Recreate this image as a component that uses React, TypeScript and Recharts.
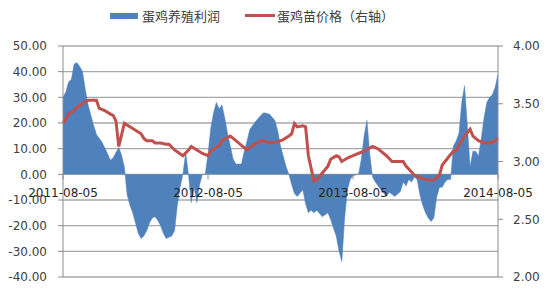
import { ComposedChart, Area, Line, XAxis, YAxis, CartesianGrid, Legend, ReferenceDot } from 'recharts'

document.body.style.margin = '0'

// 周序号（从 2011-08-05 起）与蛋鸡养殖利润（元/羽）
const profitWeeks = [
  0, 1, 2, 3, 4, 5, 6, 7, 8, 9, 10, 11, 12, 14, 16, 17, 18, 19, 20, 21, 22, 23, 24, 25, 26, 27, 28, 29, 30, 31,
  32, 33, 34, 35, 36, 37, 38, 39, 40, 41, 42, 43, 44, 45, 46, 47, 48, 49, 50, 51, 52, 53, 54, 55, 56, 57, 58, 59,
  60, 61, 62, 64, 65, 66, 67, 69, 71, 72, 74, 76, 77, 78, 79, 80, 81, 82, 83, 84, 86, 87, 88, 89, 90, 91, 93, 95,
  96, 97, 98, 99, 100, 101, 102, 103, 104, 106, 107, 108, 109, 110, 111, 112, 114, 116, 117, 119, 121, 122, 123,
  124, 125, 126, 127, 128, 129, 130, 131, 132, 133, 134, 135, 136, 137, 138, 139, 140, 141, 142, 143, 144, 145,
  146, 147, 148, 149, 150, 151, 152, 153, 154, 155, 156,
]
const profitValues = [
  30, 32, 36, 37, 43, 43.5, 42, 40, 33, 27, 23, 19, 15.5, 12.5, 8, 5.5, 6.5, 8.5, 10.5, 7.5, 3, -8, -12, -15, -19,
  -23, -25, -24, -22, -19, -17, -16.5, -18, -20, -23, -25, -24.5, -24, -22, -12, -5, 0, 8.5, 0, -11, -5, -11, -4,
  0, 0, 8, 18, 24, 28, 25.5, 27, 22, 16, 11, 6, 4, 4, 9, 13, 17.5, 20.5, 23, 24, 23.5, 21, 17, 11, 7, 3, 0, -4,
  -7.5, -8.6, -6, -11.5, -15, -14, -15, -14, -16.5, -15, -17.6, -21, -24, -30, -34, -17, -6, -2, -0.5, 0, 6, 15,
  21, 8, -1, -3, -6, -8.6, -7, -8.6, -6.7, -3, -4.5, -2, -3, -1, -2, -8, -12, -15, -17, -18.4, -17, -9, -5, -5,
  -3, -2, -2, 11, 13, 16, 28, 34.5, 19, 3, 9, 9, 7, 14, 22, 28, 30, 31, 34, 39,
]

// 蛋鸡苗价格（元/羽，右轴）
const priceWeeks = [
  0, 2, 4, 5, 7, 9, 12, 13, 15, 17, 18, 19, 20, 22, 24, 26, 28, 29, 30, 32, 33, 35, 37, 38, 40, 43, 45, 46, 48, 50,
  52, 53, 56, 57, 60, 62, 64, 66, 68, 71, 72, 74, 77, 79, 81, 82, 83, 84, 86, 87, 88, 90, 91, 93, 95, 96, 98, 99,
  100, 102, 104, 107, 108, 111, 113, 114, 116, 118, 122, 123, 125, 126, 129, 131, 133, 135, 136, 138, 140, 141,
  142, 144, 146, 147, 149, 151, 153, 155, 156,
]
const priceValues = [
  3.33, 3.41, 3.44, 3.47, 3.5, 3.53, 3.53, 3.46, 3.44, 3.41, 3.4, 3.35, 3.13, 3.33, 3.3, 3.27, 3.24, 3.2, 3.18,
  3.18, 3.16, 3.16, 3.15, 3.15, 3.1, 3.05, 3.1, 3.13, 3.1, 3.07, 3.05, 3.09, 3.14, 3.18, 3.22, 3.18, 3.14, 3.1,
  3.14, 3.18, 3.18, 3.16, 3.17, 3.19, 3.22, 3.24, 3.33, 3.3, 3.31, 3.3, 3.05, 2.83, 2.84, 2.9, 2.96, 3.02, 3.05,
  3.04, 3.0, 3.03, 3.05, 3.08, 3.09, 3.13, 3.11, 3.09, 3.05, 3.0, 3.0, 2.96, 2.91, 2.88, 2.85, 2.84, 2.84, 2.88,
  2.97, 3.03, 3.09, 3.09, 3.14, 3.22, 3.28, 3.22, 3.18, 3.16, 3.16, 3.18, 3.2,
]

const dateTicks = [0, 52, 104, 156]
const dateLabels = ['2011-08-05', '2012-08-05', '2013-08-05', '2014-08-05']
const leftTicks = [-40, -30, -20, -10, 0, 10, 20, 30, 40, 50]
const rightTicks = [2, 2.5, 3, 3.5, 4]

const BLUE = '#4f81bd'
const RED = '#c0504d'
const TEXT = '#404040'
const FONT = '"DejaVu Sans", Verdana, sans-serif'
const CJK = '"Noto Sans CJK SC", sans-serif'

// 合并两条序列，缺失处留空，由 connectNulls 连接
const byWeek = new Map<number, { week: number; profit?: number; price?: number }>()
profitWeeks.forEach((w, i) => byWeek.set(w, { ...(byWeek.get(w) || { week: w }), profit: profitValues[i] }))
priceWeeks.forEach((w, i) => byWeek.set(w, { ...(byWeek.get(w) || { week: w }), price: priceValues[i] }))
const data = [...byWeek.values()].sort((a, b) => a.week - b.week)

const renderLegend = () => (
  <div style={{ display: 'flex', alignItems: 'center', paddingLeft: 110, fontFamily: CJK, fontSize: 13, color: TEXT }}>
    <span style={{ display: 'inline-block', width: 28, height: 6, background: BLUE, marginRight: 4 }} />
    <span>蛋鸡养殖利润</span>
    <span style={{ display: 'inline-block', width: 30, height: 3, background: RED, marginLeft: 25, marginRight: 2 }} />
    <span>蛋鸡苗价格（右轴）</span>
  </div>
)

export default function App() {
  return (
    <ComposedChart width={550} height={300} data={data} margin={{ top: 27, right: 0, bottom: 23, left: 0 }}>
      <CartesianGrid yAxisId="left" vertical={false} stroke="#a8a8a8" strokeWidth={1.3} />
      <XAxis dataKey="week" type="number" domain={[0, 156]} ticks={dateTicks} hide />
      <YAxis
        yAxisId="left"
        domain={[-40, 50]}
        ticks={leftTicks}
        width={63}
        tickSize={5}
        tickMargin={11}
        stroke="#8c8c8c"
        tick={{ fill: TEXT, fontSize: 12, fontFamily: FONT }}
        tickFormatter={(v: number) => v.toFixed(2)}
      />
      <YAxis
        yAxisId="right"
        orientation="right"
        domain={[2, 4]}
        ticks={rightTicks}
        width={52}
        tickSize={5}
        tickMargin={10}
        stroke="#8c8c8c"
        tick={{ fill: TEXT, fontSize: 12, fontFamily: FONT }}
        tickFormatter={(v: number) => v.toFixed(2)}
      />
      <Legend verticalAlign="top" content={renderLegend} wrapperStyle={{ top: 6, left: 0, width: 550 }} />
      <Area
        yAxisId="left"
        dataKey="profit"
        type="linear"
        baseValue={0}
        fill={BLUE}
        fillOpacity={1}
        stroke={BLUE}
        strokeWidth={0.5}
        connectNulls
        isAnimationActive={false}
      />
      <Line
        yAxisId="right"
        dataKey="price"
        type="linear"
        stroke={RED}
        strokeWidth={3}
        dot={false}
        connectNulls
        isAnimationActive={false}
      />
      {dateTicks.map((w, i) => (
        <ReferenceDot
          key={w}
          yAxisId="left"
          x={w}
          y={0}
          r={0}
          ifOverflow="visible"
          shape={(p: { cx: number; cy: number }) => (
            <line x1={p.cx} x2={p.cx} y1={p.cy} y2={p.cy + 5} stroke="#8c8c8c" />
          )}
          label={{ value: dateLabels[i], position: 'bottom', offset: 14, fill: '#262626', fontSize: 12, fontFamily: FONT }}
        />
      ))}
    </ComposedChart>
  )
}
